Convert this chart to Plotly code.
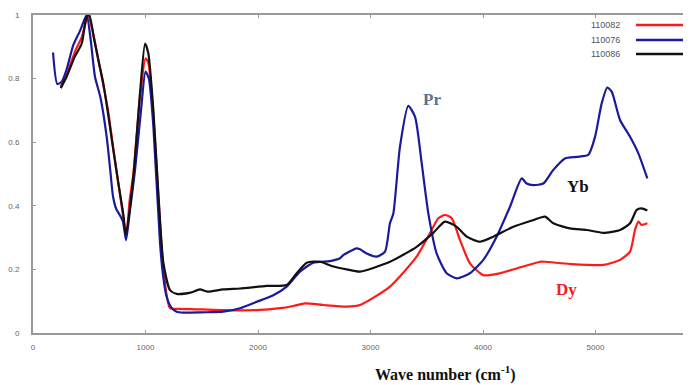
import plotly.graph_objects as go

# ---- data ----
names = ["110082", "110076", "110086"]
colors = ["#ff1a1a", "#1a1a9c", "#111111"]

x_red = [246, 299, 373, 433, 490, 530, 581, 625, 667, 714, 759, 800, 827, 860, 892, 951, 1000, 1025, 1070,
         1114, 1159, 1218, 1300, 1396, 1500, 1692, 1988, 2196, 2314, 2418, 2581, 2788, 2907, 3173, 3410, 3529,
         3603, 3662, 3722, 3796, 3884, 4003, 4151, 4299, 4507, 4551, 4773, 5070, 5218, 5307, 5351, 5381, 5410, 5461]
y_red = [0.775, 0.81, 0.885, 0.93, 1.0, 0.95, 0.86, 0.78, 0.7, 0.58, 0.47, 0.37, 0.30, 0.42, 0.5, 0.74, 0.864,
         0.85, 0.68, 0.43, 0.2, 0.078, 0.076, 0.075, 0.074, 0.072, 0.072, 0.078, 0.085, 0.093, 0.088, 0.083, 0.088,
         0.146, 0.24, 0.314, 0.361, 0.371, 0.361, 0.292, 0.219, 0.182, 0.188, 0.203, 0.224, 0.224, 0.217, 0.214,
         0.23, 0.256, 0.324, 0.35, 0.34, 0.345]

x_blue = [178, 216, 255, 300, 358, 418, 477, 510, 551, 600, 655, 690, 711, 740, 773, 800, 827, 860, 907, 960,
          1000, 1030, 1070, 1129, 1160, 1188, 1230, 1277, 1336, 1500, 1692, 1840, 1988, 2136, 2255, 2373, 2492,
          2640, 2729, 2758, 2847, 2877, 2907, 2966, 3055, 3129, 3173, 3203, 3262, 3336, 3396, 3455, 3514, 3588,
          3677, 3766, 3884, 4003, 4121, 4240, 4344, 4388, 4447, 4536, 4625, 4729, 4833, 4936, 4996, 5055, 5105,
          5144, 5218, 5307, 5381, 5461]
y_blue = [0.882, 0.783, 0.79, 0.83, 0.905, 0.95, 1.0, 0.93, 0.806, 0.74, 0.617, 0.5, 0.43, 0.39, 0.37, 0.35,
          0.292, 0.38, 0.513, 0.7, 0.822, 0.80, 0.65, 0.283, 0.17, 0.114, 0.08, 0.067, 0.064, 0.065, 0.067, 0.078,
          0.098, 0.119, 0.146, 0.193, 0.221, 0.226, 0.235, 0.245, 0.262, 0.266, 0.263, 0.25, 0.24, 0.256, 0.345,
          0.376, 0.586, 0.714, 0.68, 0.534, 0.376, 0.25, 0.188, 0.172, 0.188, 0.23, 0.303, 0.397, 0.486, 0.47,
          0.465, 0.47, 0.513, 0.549, 0.554, 0.56, 0.617, 0.722, 0.772, 0.759, 0.67, 0.617, 0.565, 0.486]

x_black = [246, 299, 373, 433, 477, 500, 540, 581, 625, 667, 714, 759, 800, 827, 892, 951, 996, 1025, 1070, 1114,
           1159, 1218, 1277, 1400, 1484, 1550, 1690, 1840, 2077, 2255, 2344, 2433, 2551, 2670, 2788, 2907, 3173,
           3410, 3558, 3662, 3766, 3855, 3973, 4092, 4270, 4447, 4551, 4625, 4773, 4921, 5070, 5218, 5307, 5366,
           5410, 5461]
y_black = [0.77, 0.806, 0.87, 0.91, 0.995, 1.0, 0.93, 0.858, 0.785, 0.69, 0.575, 0.47, 0.38, 0.31, 0.49, 0.754,
           0.91, 0.88, 0.70, 0.44, 0.22, 0.135, 0.123, 0.127, 0.137, 0.13, 0.137, 0.14, 0.148, 0.151, 0.188, 0.221,
           0.224, 0.209, 0.2, 0.193, 0.224, 0.271, 0.315, 0.35, 0.334, 0.303, 0.287, 0.303, 0.334, 0.355, 0.366,
           0.345, 0.329, 0.324, 0.315, 0.324, 0.345, 0.387, 0.392, 0.385]

x_ticks = [0, 1000, 2000, 3000, 4000, 5000]
y_ticks = [0, 0.2, 0.4, 0.6, 0.8, 1]
y_tick_labels = ["0", "0.2", "0.4", "0.6", "0.8", "1"]

labels = ["Pr", "Yb", "Dy"]
label_x = [3547, 4844, 4738]
label_y = [0.733, 0.462, 0.138]
label_colors = ["#5b7193", "#111111", "#ee2222"]

xs = [x_red, x_blue, x_black]
ys = [y_red, y_blue, y_black]

# page geometry: the page body has an 8px margin, so the figure starts at (8, 8)
OFF = 8
PAGE_W, PAGE_H = 691, 385
PLOT_L, PLOT_T, PLOT_B, PLOT_R = 33, 15, 333, 691   # plot area in page pixels
W, H = PAGE_W - OFF, PAGE_H - OFF
L, T = PLOT_L - OFF, PLOT_T - OFF
B = H - (PLOT_B - OFF)
R = W - (PLOT_R - OFF)
pw, ph = PLOT_R - PLOT_L, PLOT_B - PLOT_T

fig = go.Figure()
for n, c, xv, yv in zip(names, colors, xs, ys):
    fig.add_trace(go.Scatter(x=xv, y=yv, mode="lines", name=n,
                             line=dict(color=c, width=2.2, shape="spline", smoothing=0.6),
                             showlegend=False))

for t, lx, ly, lc in zip(labels, label_x, label_y, label_colors):
    fig.add_annotation(x=lx, y=ly, text="<b>%s</b>" % t, showarrow=False,
                       font=dict(family="Liberation Serif", size=17, color=lc))

# legend drawn manually (text left of line, as in the reference)
leg_rows = [25, 40, 54]
for n, c, py in zip(names, colors, leg_rows):
    yp = (PLOT_B - py) / ph
    fig.add_annotation(xref="paper", yref="paper", x=(622 - PLOT_L) / pw, y=yp, xanchor="right",
                       yanchor="middle", text=n, showarrow=False,
                       font=dict(family="Liberation Sans", size=9, color="#555555"))
    fig.add_shape(type="line", xref="paper", yref="paper", x0=(636 - PLOT_L) / pw, x1=(683 - PLOT_L) / pw,
                  y0=yp, y1=yp, line=dict(color=c, width=2.5))

fig.add_annotation(xref="paper", yref="paper", x=(445 - PLOT_L) / pw, y=-(361 - PLOT_B) / ph,
                   text="<b>Wave number (cm<sup>-1</sup>)</b>", showarrow=False,
                   xanchor="center", yanchor="top",
                   font=dict(family="Liberation Serif", size=16, color="#111111"))

fig.update_xaxes(range=[0, pw / 0.1125], tickvals=x_ticks, ticks="inside", ticklen=3,
                 tickcolor="#999999", showline=True, linecolor="#999999", linewidth=2,
                 mirror="ticks", showgrid=False, zeroline=False, ticklabelstandoff=5,
                 tickfont=dict(family="Liberation Sans", size=8, color="#666666"))
fig.update_yaxes(range=[0, 1], tickvals=y_ticks, ticktext=y_tick_labels, ticks="inside", ticklen=3,
                 tickcolor="#999999", showline=True, linecolor="#999999", linewidth=2,
                 showgrid=False, zeroline=False, ticklabelstandoff=10,
                 tickfont=dict(family="Liberation Sans", size=8, color="#666666"))

fig.update_layout(width=W, height=H, margin=dict(l=L, r=R, t=T, b=B, autoexpand=False),
                  paper_bgcolor="white", plot_bgcolor="white", showlegend=False)

fig.write_html("out.html")
